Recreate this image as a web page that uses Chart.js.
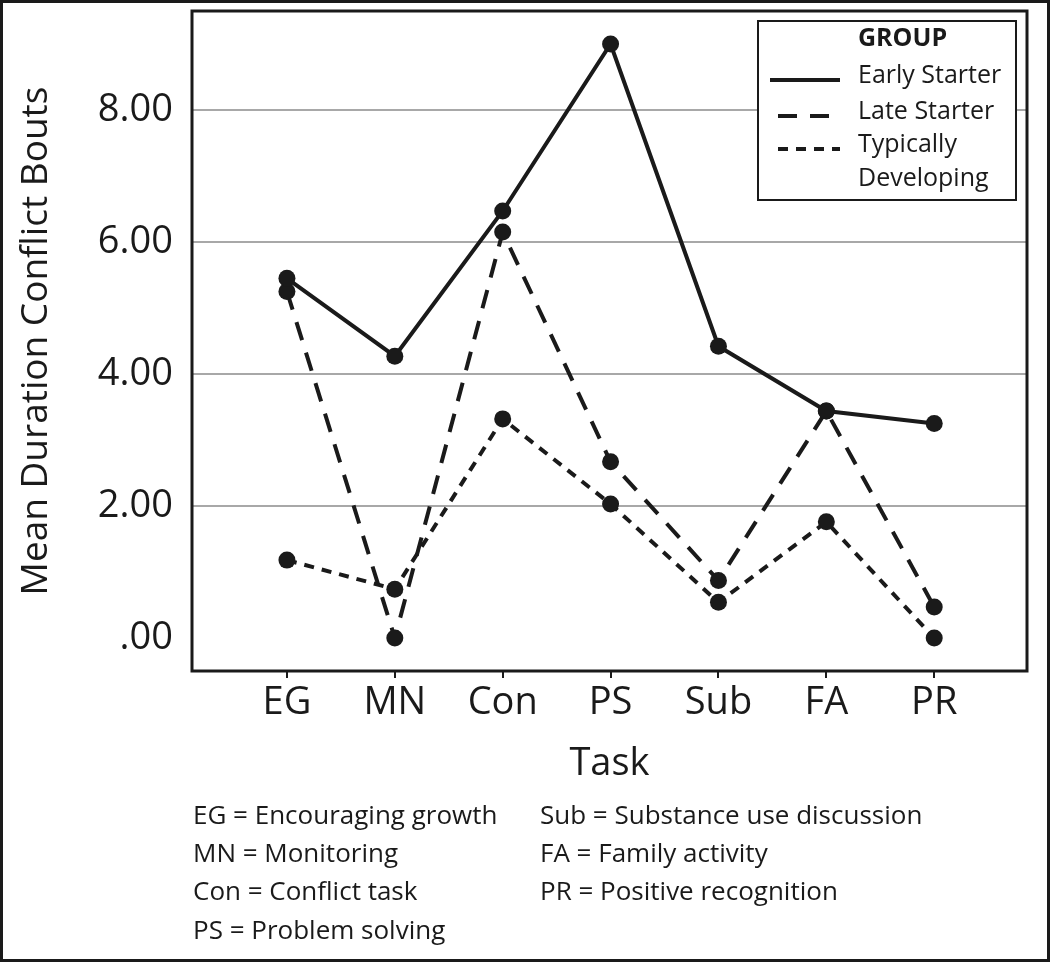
<!DOCTYPE html>
<html>
<head>
<meta charset="utf-8">
<script src="https://cdn.jsdelivr.net/npm/chart.js@4.4.0/dist/chart.umd.min.js"></script>
<style>
  html, body { margin: 0; padding: 0; background: #fff; }
  canvas { display: block; }
</style>
</head>
<body>
<canvas id="taskChart" width="1050" height="962"></canvas>
<script>
// data
const tasks = ['EG', 'MN', 'Con', 'PS', 'Sub', 'FA', 'PR'];
const earlyStarter = [5.45, 4.27, 6.47, 9.00, 4.42, 3.44, 3.25];
const lateStarter = [5.25, 0.00, 6.15, 2.67, 0.87, 3.44, 0.47];
const typicallyDeveloping = [1.18, 0.74, 3.32, 2.03, 0.54, 1.76, 0.00];
const yTicks = [0, 2, 4, 6, 8];
const groupNames = ['Early Starter', 'Late Starter', 'Typically Developing'];
const legendLines = [['Early Starter'], ['Late Starter'], ['Typically', 'Developing']];
const notesLeft = ['EG = Encouraging growth', 'MN = Monitoring', 'Con = Conflict task', 'PS = Problem solving'];
const notesRight = ['Sub = Substance use discussion', 'FA = Family activity', 'PR = Positive recognition'];

const INK = '#1a1a1a';
const FONT = "'Open Sans', sans-serif";

function toPoints(values) {
  return values.map((v, i) => ({ x: i, y: v }));
}

function lineSet(label, values, dash) {
  return {
    label: label,
    data: toPoints(values),
    borderColor: INK,
    backgroundColor: INK,
    borderWidth: 4,
    borderDash: dash,
    pointRadius: 8.5,
    pointBorderWidth: 0,
    pointBackgroundColor: INK,
    tension: 0,
    fill: false,
  };
}

// frame, legend box and the abbreviation notes
const extras = {
  id: 'extras',
  afterDraw(chart) {
    const ctx = chart.ctx;
    const a = chart.chartArea;
    ctx.save();
    // outer frame
    ctx.strokeStyle = INK;
    ctx.lineWidth = 3;
    ctx.strokeRect(1.5, 1.5, chart.width - 3, chart.height - 3);
    // plot frame
    ctx.lineWidth = 3;
    ctx.strokeRect(a.left, a.top, a.right - a.left, a.bottom - a.top);

    // legend
    const lx = 758, ly = 21, lw = 258, lh = 179;
    ctx.fillStyle = '#fff';
    ctx.fillRect(lx, ly, lw, lh);
    ctx.lineWidth = 2;
    ctx.strokeRect(lx, ly, lw, lh);
    ctx.fillStyle = INK;
    ctx.textBaseline = 'middle';
    ctx.textAlign = 'left';
    ctx.font = 'bold 25px ' + FONT;
    ctx.fillText('GROUP', 858, 39);
    ctx.font = '25px ' + FONT;
    const rowY = [76, 112, 145];
    chart.data.datasets.forEach((ds, i) => {
      const y = rowY[i];
      ctx.beginPath();
      ctx.setLineDash(ds.borderDash || []);
      ctx.lineDashOffset = i === 0 ? 0 : -8;
      ctx.lineWidth = 4;
      ctx.moveTo(770, y + 4);
      ctx.lineTo(840, y + 4);
      ctx.stroke();
      ctx.setLineDash([]);
      legendLines[i].forEach((t, k) => ctx.fillText(t, 858, y + k * 34));
    });

    // notes below the axis
    ctx.font = '26px ' + FONT;
    const rows = [817, 855, 893, 932];
    notesLeft.forEach((t, i) => ctx.fillText(t, 193, rows[i]));
    notesRight.forEach((t, i) => ctx.fillText(t, 540, rows[i]));
    ctx.restore();
  }
};

new Chart(document.getElementById('taskChart'), {
  type: 'line',
  data: {
    datasets: [
      lineSet(groupNames[0], earlyStarter, []),
      lineSet(groupNames[1], lateStarter, [19, 13]),
      lineSet(groupNames[2], typicallyDeveloping, [10, 8]),
    ],
  },
  options: {
    responsive: false,
    animation: false,
    layout: { padding: { left: 0, right: 23, top: 11, bottom: 171 } },
    plugins: {
      legend: { display: false },
      tooltip: { enabled: false },
    },
    scales: {
      x: {
        type: 'linear',
        min: -0.88,
        max: 6.86,
        afterFit: (scale) => {
          scale.height = 120;
          scale.paddingLeft = 0;
          scale.paddingRight = 0;
        },
        afterBuildTicks: (scale) => { scale.ticks = tasks.map((_, i) => ({ value: i })); },
        border: { display: false },
        grid: { drawOnChartArea: false, drawTicks: true, tickLength: 7, color: INK, lineWidth: 2 },
        ticks: {
          color: INK,
          padding: 2,
          maxRotation: 0,
          autoSkip: false,
          font: { family: FONT, size: 38 },
          callback: (v) => tasks[v],
        },
        title: {
          display: true,
          text: 'Task',
          color: INK,
          font: { family: FONT, size: 38 },
          padding: { top: 0, bottom: 4 },
        },
      },
      y: {
        min: -0.5,
        max: 9.5,
        afterFit: (scale) => {
          scale.width = 192;
          scale.paddingTop = 0;
          scale.paddingBottom = 0;
        },
        afterBuildTicks: (scale) => { scale.ticks = yTicks.map(v => ({ value: v })); },
        border: { display: false },
        grid: {
          drawTicks: false,
          lineWidth: 2,
          color: (c) => (c.tick && c.tick.value === 0 ? 'rgba(0,0,0,0)' : '#a8a8a8'),
        },
        ticks: {
          color: INK,
          padding: 19,
          font: { family: FONT, size: 38 },
          callback: (v) => (v === 0 ? '.00' : v.toFixed(2)),
        },
        title: {
          display: true,
          text: 'Mean Duration Conflict Bouts',
          color: INK,
          font: { family: FONT, size: 37 },
          padding: { top: 14, bottom: 0 },
        },
      },
    },
  },
  plugins: [extras],
});
</script>
</body>
</html>
